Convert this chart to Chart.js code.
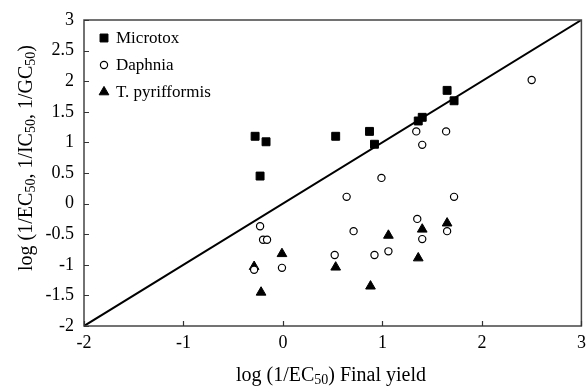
<!DOCTYPE html>
<html><head><meta charset="utf-8">
<script src="https://cdn.jsdelivr.net/npm/chart.js@4"></script>
<style>html,body{margin:0;padding:0;background:#fff}#wrap{width:588px;height:386px}</style>
</head><body>
<div id="wrap"><canvas id="c"></canvas></div>
<script>
// ---- data ----
const seriesNames = ['Microtox', 'Daphnia', 'T. pyrifformis'];
const microtoxX = [-0.28, -0.17, -0.23, 0.53, 0.87, 0.92, 1.36, 1.40, 1.65, 1.72];
const microtoxY = [1.10, 1.01, 0.45, 1.10, 1.18, 0.97, 1.35, 1.41, 1.85, 1.68];
const daphniaX = [-0.29, -0.23, -0.20, -0.16, -0.01, 0.52, 0.64, 0.71, 0.92, 0.99, 1.06, 1.34, 1.35, 1.40, 1.40, 1.64, 1.65, 1.72, 2.50];
const daphniaY = [-1.08, -0.37, -0.59, -0.59, -1.05, -0.84, 0.11, -0.45, -0.84, 0.42, -0.78, 1.18, -0.25, 0.96, -0.58, 1.18, -0.45, 0.11, 2.02];
const pyrX = [-0.29, -0.22, -0.01, 0.53, 0.88, 1.06, 1.36, 1.40, 1.65];
const pyrY = [-1.03, -1.45, -0.82, -1.04, -1.35, -0.52, -0.89, -0.42, -0.32];
const lineX = [-2, 3];
const lineY = [-2, 3];
const xTickValues = [-2, -1, 0, 1, 2, 3];
const yTickValues = [-2, -1.5, -1, -0.5, 0, 0.5, 1, 1.5, 2, 2.5, 3];
const xTitleParts = [['log (1/EC', 0], ['50', 1], [') Final yield', 0]];
const yTitleParts = [['log (1/EC', 0], ['50', 1], [', 1/IC', 0], ['50', 1], [', 1/GC', 0], ['50', 1], [')', 0]];

const pts = (xs, ys) => xs.map((x, i) => ({x: x, y: ys[i]}));
const FONT = '"Liberation Serif", "Times New Roman", serif';

const styles = [
  {pointStyle: 'rect', radius: 5.6, bg: '#000', border: '#000', bw: 1},
  {pointStyle: 'circle', radius: 3.6, bg: '#fff', border: '#000', bw: 1.2},
  {pointStyle: 'triangle', radius: 5.6, bg: '#000', border: '#000', bw: 1}
];
const seriesData = [pts(microtoxX, microtoxY), pts(daphniaX, daphniaY), pts(pyrX, pyrY)];

const datasets = seriesData.map((d, i) => ({
  type: 'scatter', label: seriesNames[i], data: d,
  pointStyle: styles[i].pointStyle, pointRadius: styles[i].radius,
  pointBackgroundColor: styles[i].bg, pointBorderColor: styles[i].border,
  pointBorderWidth: styles[i].bw, showLine: false
}));
datasets.push({
  type: 'line', label: '1:1', data: pts(lineX, lineY),
  borderColor: '#000', borderWidth: 2, pointRadius: 0, fill: false
});

function drawRich(ctx, parts, size) {
  const sub = Math.round(size * 0.7);
  let w = 0;
  parts.forEach(p => { ctx.font = (p[1] ? sub : size) + 'px ' + FONT; w += ctx.measureText(p[0]).width; });
  let x = -w / 2;
  parts.forEach(p => {
    ctx.font = (p[1] ? sub : size) + 'px ' + FONT;
    ctx.fillText(p[0], x, p[1] ? 3 : 0);
    x += ctx.measureText(p[0]).width;
  });
}

const decorPlugin = {
  id: 'decor',
  afterDraw(chart) {
    const ctx = chart.ctx, a = chart.chartArea;
    const xs = chart.scales.x, ys = chart.scales.y;
    ctx.save();
    // frame
    ctx.strokeStyle = '#444'; ctx.lineWidth = 1.5;
    ctx.strokeRect(a.left, a.top, a.right - a.left, a.bottom - a.top);
    // inward ticks
    ctx.lineWidth = 1.2; ctx.strokeStyle = '#333';
    ctx.beginPath();
    xTickValues.forEach(v => { const p = Math.round(xs.getPixelForValue(v)) + 0.5; ctx.moveTo(p, a.bottom); ctx.lineTo(p, a.bottom - 5); });
    yTickValues.forEach(v => { const p = Math.round(ys.getPixelForValue(v)) + 0.5; ctx.moveTo(a.left, p); ctx.lineTo(a.left + 5, p); });
    ctx.stroke();
    // axis titles
    ctx.fillStyle = '#000'; ctx.textBaseline = 'alphabetic'; ctx.textAlign = 'left';
    ctx.save();
    ctx.translate(331, 381);
    drawRich(ctx, xTitleParts, 20);
    ctx.restore();
    ctx.save();
    ctx.translate(32, 158);
    ctx.rotate(-Math.PI / 2);
    drawRich(ctx, yTitleParts, 20);
    ctx.restore();
    // legend
    const rows = [38, 65, 92];
    seriesNames.forEach((n, i) => {
      const s = styles[i];
      ctx.fillStyle = s.bg; ctx.strokeStyle = s.border; ctx.lineWidth = s.bw;
      Chart.helpers.drawPoint(ctx, {pointStyle: s.pointStyle, radius: s.radius, rotation: 0, borderWidth: s.bw}, 104, rows[i]);
      ctx.fillStyle = '#000';
      ctx.font = '17px ' + FONT; ctx.textBaseline = 'middle'; ctx.textAlign = 'left';
      ctx.fillText(n, 116, rows[i] + 1);
    });
    ctx.restore();
  }
};

new Chart(document.getElementById('c'), {
  data: {datasets: datasets},
  options: {
    responsive: true, maintainAspectRatio: false, animation: false,
    layout: {padding: {left: 0, right: 0, top: 20, bottom: 0}},
    plugins: {legend: {display: false}, tooltip: {enabled: false}},
    scales: {
      x: {
        type: 'linear', min: -2, max: 3,
        afterBuildTicks: s => { s.ticks = xTickValues.map(v => ({value: v})); },
        ticks: {color: '#000', font: {family: FONT, size: 18}, padding: 6, maxRotation: 0,
                callback: v => String(v)},
        grid: {display: false, drawTicks: false}, border: {display: false},
        afterFit: s => { s.height = 60; s.paddingRight = 0; s.paddingLeft = 0; }
      },
      y: {
        type: 'linear', min: -2, max: 3,
        afterBuildTicks: s => { s.ticks = yTickValues.map(v => ({value: v})); },
        ticks: {color: '#000', font: {family: FONT, size: 18}, padding: 10,
                callback: v => String(v)},
        grid: {display: false, drawTicks: false}, border: {display: false},
        afterFit: s => { s.width = 84; s.paddingTop = 0; s.paddingBottom = 0; }
      }
    }
  },
  plugins: [decorPlugin]
});
</script>
</body></html>
